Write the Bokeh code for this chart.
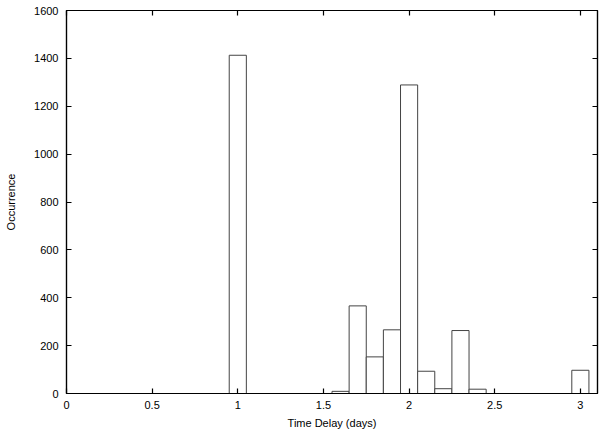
from bokeh.plotting import figure
from bokeh.models import LinearAxis, Range1d, FixedTicker, CustomJSTickFormatter
from bokeh.embed import file_html
from bokeh.resources import INLINE

# Histogram data (bin centers in days, occurrences)
delays = [1.0, 1.6, 1.7, 1.8, 1.9, 2.0, 2.1, 2.2, 2.3, 2.4, 3.0]
counts = [1413, 9, 366, 153, 266, 1289, 93, 20, 263, 18, 97]
bin_width = 0.1
x_ticks = [0, 0.5, 1, 1.5, 2, 2.5, 3]
y_ticks = [0, 200, 400, 600, 800, 1000, 1200, 1400, 1600]

FONT = "Liberation Sans"

p = figure(width=600, height=433, output_backend="svg", toolbar_location=None,
           x_range=Range1d(0, 3.1), y_range=Range1d(0, 1600),
           min_border_left=66, min_border_right=3, min_border_top=10, min_border_bottom=40)
p.background_fill_color = "white"
p.border_fill_color = "white"
p.outline_line_color = "black"
p.outline_line_width = 1.2
p.grid.visible = False

p.vbar(x=delays, top=counts, bottom=0, width=bin_width,
       fill_color="white", line_color="#444444", line_width=1)

for ax in p.xaxis + p.yaxis:
    ax.major_tick_in = 5
    ax.major_tick_out = 0
    ax.minor_tick_line_color = None
    ax.axis_line_color = "black"
    ax.axis_line_width = 1.2
    ax.major_tick_line_color = "black"
    ax.major_tick_line_width = 1.2
    ax.major_label_text_font = FONT
    ax.major_label_text_font_size = "11px"
    ax.major_label_text_color = "black"
    ax.axis_label_text_font = FONT
    ax.axis_label_text_font_size = "11px"
    ax.axis_label_text_font_style = "normal"
    ax.axis_label_text_color = "black"

p.xaxis.ticker = FixedTicker(ticks=x_ticks)
p.yaxis.ticker = FixedTicker(ticks=y_ticks)
p.xaxis.axis_label = "Time Delay (days)"
p.yaxis.axis_label = "Occurrence"
p.xaxis.major_label_standoff = 7
p.yaxis.major_label_standoff = 8
p.xaxis.axis_label_standoff = 5
p.yaxis.axis_label_standoff = 14

blank = CustomJSTickFormatter(code="return ''")
top_ax = LinearAxis(ticker=FixedTicker(ticks=x_ticks), formatter=blank,
                    major_tick_in=5, major_tick_out=0, minor_tick_line_color=None,
                    major_label_standoff=0, major_label_text_font_size="0px",
                    axis_line_color="black", major_tick_line_color="black",
                    major_tick_line_width=1.2, axis_line_width=1.2)
right_ax = LinearAxis(ticker=FixedTicker(ticks=y_ticks), formatter=blank,
                      major_tick_in=5, major_tick_out=0, minor_tick_line_color=None,
                      major_label_standoff=0, major_label_text_font_size="0px",
                      axis_line_color="black", major_tick_line_color="black",
                      major_tick_line_width=1.2, axis_line_width=1.2)
p.add_layout(top_ax, "above")
p.add_layout(right_ax, "right")

open("out.html", "w").write(file_html(p, INLINE))
